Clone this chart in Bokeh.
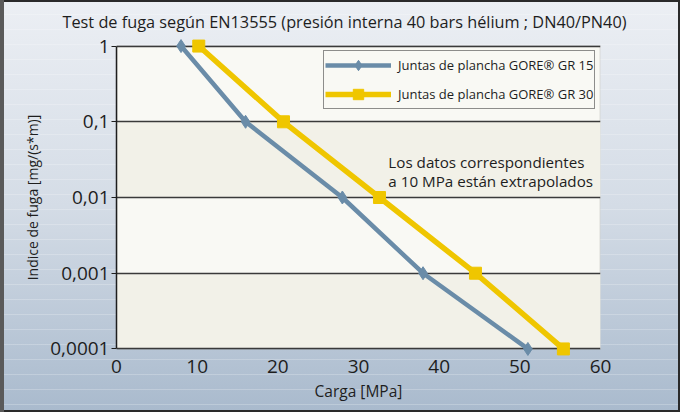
import math
from bokeh.plotting import figure
from bokeh.models import Range1d, FixedTicker, BoxAnnotation, Label, Legend, LegendItem
from bokeh.embed import file_html
from bokeh.resources import INLINE

# ---- data ----
title_text = "Test de fuga según EN13555 (presión interna 40 bars hélium ; DN40/PN40)"
x_label = "Carga [MPa]"
y_label = "Indice de fuga [mg/(s*m)]"
note_lines = ["Los datos correspondientes", "a 10 MPa están extrapolados"]
series_names = ["Juntas de plancha GORE® GR 15", "Juntas de plancha GORE® GR 30"]
load_gr15 = [8, 16, 28, 38, 51]
leak_gr15 = [1, 0.1, 0.01, 0.001, 0.0001]
load_gr30 = [10.2, 20.7, 32.6, 44.5, 55.4]
leak_gr30 = [1, 0.1, 0.01, 0.001, 0.0001]
x_ticks = [0, 10, 20, 30, 40, 50, 60]
y_ticks = [0.0001, 0.001, 0.01, 0.1, 1]
y_tick_labels = ["0,0001", "0,001", "0,01", "0,1", "1"]
x_min, x_max = 0, 60
y_min, y_max = 0.0001, 1

FONT = "Open Sans"
TXT = "#1e1e1e"
BLUE = "#6A8CA8"
YELLOW = "#EFC600"

pad = 10 ** 0.1
p = figure(
    width=680, height=412,
    x_range=Range1d(x_min, x_max),
    y_range=Range1d(y_min / pad, y_max * pad),
    y_axis_type="log",
    output_backend="svg", toolbar_location=None,
    min_border_left=116, min_border_right=80,
    min_border_top=38, min_border_bottom=56,
    background_fill_alpha=0, border_fill_alpha=0,
    outline_line_color=None,
    styles={
        "background": ("repeating-linear-gradient(to bottom, rgba(255,255,255,0) 0px, "
                       "rgba(255,255,255,0) 14px, rgba(255,255,255,0.22) 14px, "
                       "rgba(255,255,255,0.22) 15px), "
                       "linear-gradient(to bottom, #ECEFF4 0%, #D4DCE6 50%, #A9BACD 100%)"),
        "box-shadow": "inset 4px 0 0 0 #5a5a5a, inset 0 0 0 2px #2a2a2a",
    },
)

# title
p.title.text = title_text
p.title.align = "left"
p.title.offset = -54
p.title.standoff = 11
p.title.text_font = FONT
p.title.text_font_size = "16.3px"
p.title.text_font_style = "normal"
p.title.text_color = TXT

# plot area and alternating bands
area = BoxAnnotation(left=x_min, right=x_max, bottom=y_min, top=y_max,
                     fill_color="#F9F9F4", fill_alpha=1,
                     line_color="#9a9a9a", line_width=2, level="image")
p.add_layout(area)
for i in range(0, len(y_ticks) - 1, 2):
    band = BoxAnnotation(left=x_min, right=x_max, bottom=y_ticks[i], top=y_ticks[i + 1],
                         fill_color="#F2F1E8", fill_alpha=1, line_color=None, level="image")
    p.add_layout(band)

# grid
p.xgrid.grid_line_color = None
p.ygrid.ticker = FixedTicker(ticks=y_ticks)
p.ygrid.grid_line_color = "#3a3a3a"
p.ygrid.grid_line_width = 1.5

# axes
p.xaxis.ticker = FixedTicker(ticks=x_ticks)
p.xaxis.axis_line_color = None
p.xaxis.major_tick_out = 0
p.xaxis.major_tick_in = 0
p.xaxis.minor_tick_line_color = None
p.xaxis.major_label_standoff = 3
p.xaxis.axis_label = x_label
p.xaxis.axis_label_standoff = 4

p.yaxis.ticker = FixedTicker(ticks=y_ticks)
p.yaxis.major_label_overrides = {t: l for t, l in zip(y_ticks, y_tick_labels)}
p.yaxis.bounds = (y_min, y_max)
p.yaxis.axis_line_color = "#1e1e1e"
p.yaxis.axis_line_width = 1.5
p.yaxis.major_tick_out = 5
p.yaxis.major_tick_in = 0
p.yaxis.major_tick_line_color = "#1e1e1e"
p.yaxis.minor_tick_line_color = None
p.yaxis.major_label_standoff = 2
p.yaxis.axis_label = y_label
p.yaxis.axis_label_standoff = 5

for ax in (p.xaxis, p.yaxis):
    ax.major_label_text_font = FONT
    ax.major_label_text_font_size = "19px"
    ax.major_label_text_color = TXT
    ax.axis_label_text_font = FONT
    ax.axis_label_text_font_style = "normal"
    ax.axis_label_text_color = TXT
p.xaxis.axis_label_text_font_size = "15.5px"
p.yaxis.axis_label_text_font_size = "14px"

# series
l15 = p.line(load_gr15, leak_gr15, line_color=BLUE, line_width=4.5)
s15 = p.scatter(load_gr15, leak_gr15, marker="diamond", size=13,
                fill_color=BLUE, line_color=BLUE)
l30 = p.line(load_gr30, leak_gr30, line_color=YELLOW, line_width=5.5)
s30 = p.scatter(load_gr30, leak_gr30, marker="square", size=12,
                fill_color=YELLOW, line_color=YELLOW)

legend = Legend(
    items=[LegendItem(label=series_names[0], renderers=[l15, s15]),
           LegendItem(label=series_names[1], renderers=[l30, s30])],
    location=(207, 247),
    background_fill_color="#F9F9F4", background_fill_alpha=1,
    border_line_color="#222222", border_line_width=1.5,
    label_text_font=FONT, label_text_font_size="13px", label_text_color=TXT,
    glyph_width=66, glyph_height=26, label_height=26, spacing=3,
    padding=1, margin=0, label_standoff=7,
)
p.add_layout(legend)

# note
for k, line in enumerate(note_lines):
    p.add_layout(Label(x=33.7, y=10 ** (-1.53 - 0.25 * k), text=line,
                       text_font=FONT, text_font_size="15.2px", text_color=TXT,
                       text_align="left", text_baseline="middle"))

open("out.html", "w").write(file_html(p, INLINE))
